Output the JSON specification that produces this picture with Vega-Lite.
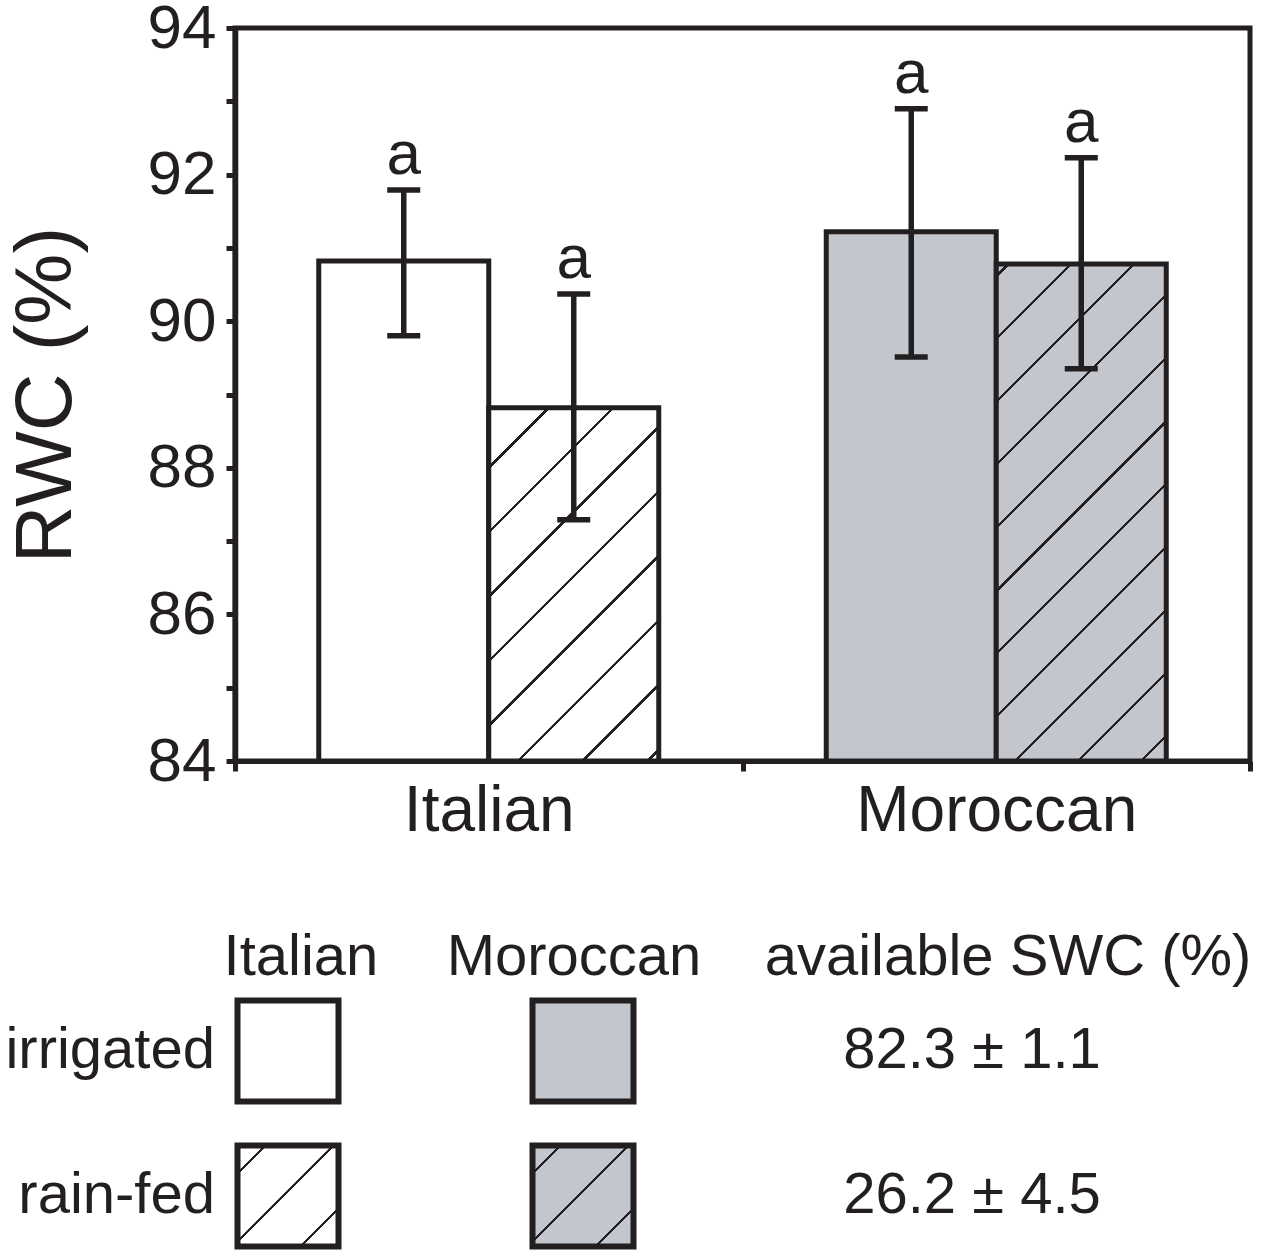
{
  "$schema": "https://vega.github.io/schema/vega-lite/v6.json",
  "autosize": "none",
  "padding": {"left": 235, "top": 28, "right": 14, "bottom": 499},
  "width": 1015,
  "height": 733,
  "background": "white",
  "config": {
    "font": "Liberation Sans",
    "view": {"stroke": "#231f20", "strokeWidth": 5},
    "axis": {
      "domainColor": "#231f20",
      "tickColor": "#231f20",
      "labelColor": "#231f20",
      "titleColor": "#231f20",
      "grid": false
    },
    "text": {"color": "#231f20", "font": "Liberation Sans"}
  },
  "datasets": {
    "rwc": [
      {"cultivar": "Italian", "treatment": "irrigated", "rwc": 90.82, "lo": 89.80, "hi": 91.79, "sig": "a"},
      {"cultivar": "Italian", "treatment": "rain-fed", "rwc": 88.82, "lo": 87.29, "hi": 90.37, "sig": "a"},
      {"cultivar": "Moroccan", "treatment": "irrigated", "rwc": 91.22, "lo": 89.51, "hi": 92.90, "sig": "a"},
      {"cultivar": "Moroccan", "treatment": "rain-fed", "rwc": 90.78, "lo": 89.35, "hi": 92.23, "sig": "a"}
    ],
    "swc": [
      {"row": "irrigated", "swc": "82.3 ± 1.1"},
      {"row": "rain-fed", "swc": "26.2 ± 4.5"}
    ]
  },
  "layer": [
    {
      "data": {"name": "rwc"},
      "encoding": {
        "x": {
          "field": "cultivar", "type": "nominal", "title": null,
          "scale": {"paddingInner": 0, "paddingOuter": 0},
          "axis": {
            "labelAngle": 0, "labelFontSize": 64, "labelPadding": 8, "labelLimit": 0,
            "tickBand": "extent", "tickSize": 10, "tickWidth": 5, "domainWidth": 5
          }
        },
        "xOffset": {
          "field": "treatment", "type": "nominal",
          "scale": {"domain": ["irrigated", "rain-fed"], "paddingInner": 0, "paddingOuter": 0.4926}
        }
      },
      "layer": [
        {
          "transform": [{"filter": "datum.treatment === 'irrigated'"}],
          "mark": {"type": "bar", "stroke": "#231f20", "strokeWidth": 5, "opacity": 1},
          "encoding": {
            "y": {
              "field": "rwc", "type": "quantitative", "title": "RWC (%)",
              "scale": {"domain": [84, 94], "nice": false, "zero": false},
              "axis": {
                "values": [84, 85, 86, 87, 88, 89, 90, 91, 92, 93, 94],
                "format": "d",
                "labelExpr": "datum.value % 2 === 0 ? datum.label : ''",
                "labelOverlap": false,
                "labelFontSize": 62, "labelPadding": 10,
                "tickSize": 9, "tickWidth": 5, "domainWidth": 5.5,
                "titleFontSize": 80, "titleFontWeight": "normal", "titlePadding": 60
              }
            },
            "y2": {"datum": 84},
            "fill": {
              "field": "cultivar", "type": "nominal", "legend": null,
              "scale": {"domain": ["Italian", "Moroccan"], "range": ["#ffffff", "#c3c6cc"]}
            }
          }
        },
        {
          "transform": [{"filter": "datum.treatment === 'rain-fed'"}],
          "mark": {"type": "bar", "stroke": "#231f20", "strokeWidth": 5, "opacity": 1},
          "encoding": {
            "y": {"field": "rwc", "type": "quantitative"},
            "y2": {"datum": 84},
            "fill": {
              "condition": {
                "test": "datum.cultivar === 'Italian'",
                "value": {
                  "gradient": "linear", "x1": 0, "y1": 0, "x2": 0.5787, "y2": 1.2027,
                  "stops": [
                    {"offset": 0, "color": "#ffffff"},
                    {"offset": 0.1113, "color": "#ffffff"}, {"offset": 0.1113, "color": "#231f20"}, {"offset": 0.1181, "color": "#231f20"}, {"offset": 0.1181, "color": "#ffffff"},
                    {"offset": 0.2346, "color": "#ffffff"}, {"offset": 0.2346, "color": "#231f20"}, {"offset": 0.2414, "color": "#231f20"}, {"offset": 0.2414, "color": "#ffffff"},
                    {"offset": 0.3580, "color": "#ffffff"}, {"offset": 0.3580, "color": "#231f20"}, {"offset": 0.3648, "color": "#231f20"}, {"offset": 0.3648, "color": "#ffffff"},
                    {"offset": 0.4813, "color": "#ffffff"}, {"offset": 0.4813, "color": "#231f20"}, {"offset": 0.4881, "color": "#231f20"}, {"offset": 0.4881, "color": "#ffffff"},
                    {"offset": 0.6046, "color": "#ffffff"}, {"offset": 0.6046, "color": "#231f20"}, {"offset": 0.6114, "color": "#231f20"}, {"offset": 0.6114, "color": "#ffffff"},
                    {"offset": 0.7280, "color": "#ffffff"}, {"offset": 0.7280, "color": "#231f20"}, {"offset": 0.7348, "color": "#231f20"}, {"offset": 0.7348, "color": "#ffffff"},
                    {"offset": 0.8513, "color": "#ffffff"}, {"offset": 0.8513, "color": "#231f20"}, {"offset": 0.8581, "color": "#231f20"}, {"offset": 0.8581, "color": "#ffffff"},
                    {"offset": 0.9746, "color": "#ffffff"}, {"offset": 0.9746, "color": "#231f20"}, {"offset": 0.9814, "color": "#231f20"}, {"offset": 0.9814, "color": "#ffffff"},
                    {"offset": 1, "color": "#ffffff"}
                  ]
                }
              },
              "value": {
                "gradient": "linear", "x1": 0, "y1": 0, "x2": 0.4110, "y2": 1.2014,
                "stops": [
                  {"offset": 0, "color": "#c3c6cc"},
                  {"offset": 0.0154, "color": "#c3c6cc"}, {"offset": 0.0154, "color": "#231f20"}, {"offset": 0.0206, "color": "#231f20"}, {"offset": 0.0206, "color": "#c3c6cc"},
                  {"offset": 0.1098, "color": "#c3c6cc"}, {"offset": 0.1098, "color": "#231f20"}, {"offset": 0.1150, "color": "#231f20"}, {"offset": 0.1150, "color": "#c3c6cc"},
                  {"offset": 0.2043, "color": "#c3c6cc"}, {"offset": 0.2043, "color": "#231f20"}, {"offset": 0.2095, "color": "#231f20"}, {"offset": 0.2095, "color": "#c3c6cc"},
                  {"offset": 0.2987, "color": "#c3c6cc"}, {"offset": 0.2987, "color": "#231f20"}, {"offset": 0.3039, "color": "#231f20"}, {"offset": 0.3039, "color": "#c3c6cc"},
                  {"offset": 0.3932, "color": "#c3c6cc"}, {"offset": 0.3932, "color": "#231f20"}, {"offset": 0.3984, "color": "#231f20"}, {"offset": 0.3984, "color": "#c3c6cc"},
                  {"offset": 0.4877, "color": "#c3c6cc"}, {"offset": 0.4877, "color": "#231f20"}, {"offset": 0.4929, "color": "#231f20"}, {"offset": 0.4929, "color": "#c3c6cc"},
                  {"offset": 0.5821, "color": "#c3c6cc"}, {"offset": 0.5821, "color": "#231f20"}, {"offset": 0.5873, "color": "#231f20"}, {"offset": 0.5873, "color": "#c3c6cc"},
                  {"offset": 0.6766, "color": "#c3c6cc"}, {"offset": 0.6766, "color": "#231f20"}, {"offset": 0.6818, "color": "#231f20"}, {"offset": 0.6818, "color": "#c3c6cc"},
                  {"offset": 0.7710, "color": "#c3c6cc"}, {"offset": 0.7710, "color": "#231f20"}, {"offset": 0.7762, "color": "#231f20"}, {"offset": 0.7762, "color": "#c3c6cc"},
                  {"offset": 0.8655, "color": "#c3c6cc"}, {"offset": 0.8655, "color": "#231f20"}, {"offset": 0.8707, "color": "#231f20"}, {"offset": 0.8707, "color": "#c3c6cc"},
                  {"offset": 0.9599, "color": "#c3c6cc"}, {"offset": 0.9599, "color": "#231f20"}, {"offset": 0.9651, "color": "#231f20"}, {"offset": 0.9651, "color": "#c3c6cc"},
                  {"offset": 1, "color": "#c3c6cc"}
                ]
              }
            }
          }
        },
        {
          "mark": {"type": "rule", "color": "#231f20", "strokeWidth": 5.5, "opacity": 1},
          "encoding": {
            "y": {"field": "lo", "type": "quantitative"},
            "y2": {"field": "hi"}
          }
        },
        {
          "mark": {"type": "tick", "color": "#231f20", "thickness": 5.5, "size": 33, "opacity": 1},
          "encoding": {"y": {"field": "lo", "type": "quantitative"}}
        },
        {
          "mark": {"type": "tick", "color": "#231f20", "thickness": 5.5, "size": 33, "opacity": 1},
          "encoding": {"y": {"field": "hi", "type": "quantitative"}}
        },
        {
          "mark": {"type": "text", "fontSize": 62, "baseline": "alphabetic", "dy": -16},
          "encoding": {
            "y": {"field": "hi", "type": "quantitative"},
            "text": {"field": "sig"}
          }
        }
      ]
    },
    {
      "data": {"name": "swc"},
      "layer": [
        {
          "data": {"values": [{"h": "Italian"}]},
          "mark": {"type": "text", "fontSize": 58, "baseline": "middle"},
          "encoding": {
            "x": {"datum": 66, "type": "quantitative", "scale": {"domain": [0, 1015], "nice": false, "zero": false}, "axis": null},
            "y": {"datum": 930, "type": "quantitative", "scale": {"domain": [0, 733], "nice": false, "zero": false, "reverse": true}, "axis": null},
            "text": {"field": "h"}
          }
        },
        {
          "data": {"values": [{"h": "Moroccan"}]},
          "mark": {"type": "text", "fontSize": 58, "baseline": "middle"},
          "encoding": {
            "x": {"datum": 339, "type": "quantitative"},
            "y": {"datum": 930, "type": "quantitative"},
            "text": {"field": "h"}
          }
        },
        {
          "data": {"values": [{"h": "available SWC (%)"}]},
          "mark": {"type": "text", "fontSize": 58, "baseline": "middle"},
          "encoding": {
            "x": {"datum": 773, "type": "quantitative"},
            "y": {"datum": 930, "type": "quantitative"},
            "text": {"field": "h"}
          }
        },
        {
          "transform": [{"filter": "datum.row === 'irrigated'"}],
          "mark": {"type": "text", "fontSize": 58, "baseline": "middle", "align": "right"},
          "encoding": {
            "x": {"datum": -20, "type": "quantitative"},
            "y": {"datum": 1023, "type": "quantitative"},
            "text": {"field": "row"}
          }
        },
        {
          "transform": [{"filter": "datum.row === 'rain-fed'"}],
          "mark": {"type": "text", "fontSize": 58, "baseline": "middle", "align": "right"},
          "encoding": {
            "x": {"datum": -20, "type": "quantitative"},
            "y": {"datum": 1168, "type": "quantitative"},
            "text": {"field": "row"}
          }
        },
        {
          "transform": [{"filter": "datum.row === 'irrigated'"}],
          "mark": {"type": "text", "fontSize": 58, "baseline": "middle"},
          "encoding": {
            "x": {"datum": 737, "type": "quantitative"},
            "y": {"datum": 1023, "type": "quantitative"},
            "text": {"field": "swc"}
          }
        },
        {
          "transform": [{"filter": "datum.row === 'rain-fed'"}],
          "mark": {"type": "text", "fontSize": 58, "baseline": "middle"},
          "encoding": {
            "x": {"datum": 737, "type": "quantitative"},
            "y": {"datum": 1168, "type": "quantitative"},
            "text": {"field": "swc"}
          }
        },
        {
          "transform": [{"filter": "datum.row === 'irrigated'"}],
          "mark": {"type": "point", "shape": "square", "size": 10201, "filled": true, "fill": "#ffffff", "stroke": "#231f20", "strokeWidth": 6, "opacity": 1},
          "encoding": {
            "x": {"datum": 53, "type": "quantitative"},
            "y": {"datum": 1023, "type": "quantitative"}
          }
        },
        {
          "transform": [{"filter": "datum.row === 'irrigated'"}],
          "mark": {"type": "point", "shape": "square", "size": 10201, "filled": true, "fill": "#c3c6cc", "stroke": "#231f20", "strokeWidth": 6, "opacity": 1},
          "encoding": {
            "x": {"datum": 348, "type": "quantitative"},
            "y": {"datum": 1023, "type": "quantitative"}
          }
        },
        {
          "transform": [{"filter": "datum.row === 'rain-fed'"}],
          "mark": {
            "type": "point", "shape": "square", "size": 10201, "filled": true, "stroke": "#231f20", "strokeWidth": 6, "opacity": 1,
            "fill": {
              "gradient": "linear", "x1": 0, "y1": 0, "x2": 1, "y2": 1,
              "stops": [
                {"offset": 0, "color": "#ffffff"},
                {"offset": 0.1299, "color": "#ffffff"}, {"offset": 0.1299, "color": "#231f20"}, {"offset": 0.1473, "color": "#231f20"}, {"offset": 0.1473, "color": "#ffffff"},
                {"offset": 0.4665, "color": "#ffffff"}, {"offset": 0.4665, "color": "#231f20"}, {"offset": 0.4839, "color": "#231f20"}, {"offset": 0.4839, "color": "#ffffff"},
                {"offset": 0.8032, "color": "#ffffff"}, {"offset": 0.8032, "color": "#231f20"}, {"offset": 0.8206, "color": "#231f20"}, {"offset": 0.8206, "color": "#ffffff"},
                {"offset": 1, "color": "#ffffff"}
              ]
            }
          },
          "encoding": {
            "x": {"datum": 53, "type": "quantitative"},
            "y": {"datum": 1168, "type": "quantitative"}
          }
        },
        {
          "transform": [{"filter": "datum.row === 'rain-fed'"}],
          "mark": {
            "type": "point", "shape": "square", "size": 10201, "filled": true, "stroke": "#231f20", "strokeWidth": 6, "opacity": 1,
            "fill": {
              "gradient": "linear", "x1": 0, "y1": 0, "x2": 1, "y2": 1,
              "stops": [
                {"offset": 0, "color": "#c3c6cc"},
                {"offset": 0.1299, "color": "#c3c6cc"}, {"offset": 0.1299, "color": "#231f20"}, {"offset": 0.1473, "color": "#231f20"}, {"offset": 0.1473, "color": "#c3c6cc"},
                {"offset": 0.4665, "color": "#c3c6cc"}, {"offset": 0.4665, "color": "#231f20"}, {"offset": 0.4839, "color": "#231f20"}, {"offset": 0.4839, "color": "#c3c6cc"},
                {"offset": 0.8032, "color": "#c3c6cc"}, {"offset": 0.8032, "color": "#231f20"}, {"offset": 0.8206, "color": "#231f20"}, {"offset": 0.8206, "color": "#c3c6cc"},
                {"offset": 1, "color": "#c3c6cc"}
              ]
            }
          },
          "encoding": {
            "x": {"datum": 348, "type": "quantitative"},
            "y": {"datum": 1168, "type": "quantitative"}
          }
        }
      ]
    }
  ],
  "resolve": {"scale": {"x": "independent", "y": "independent"}}
}
